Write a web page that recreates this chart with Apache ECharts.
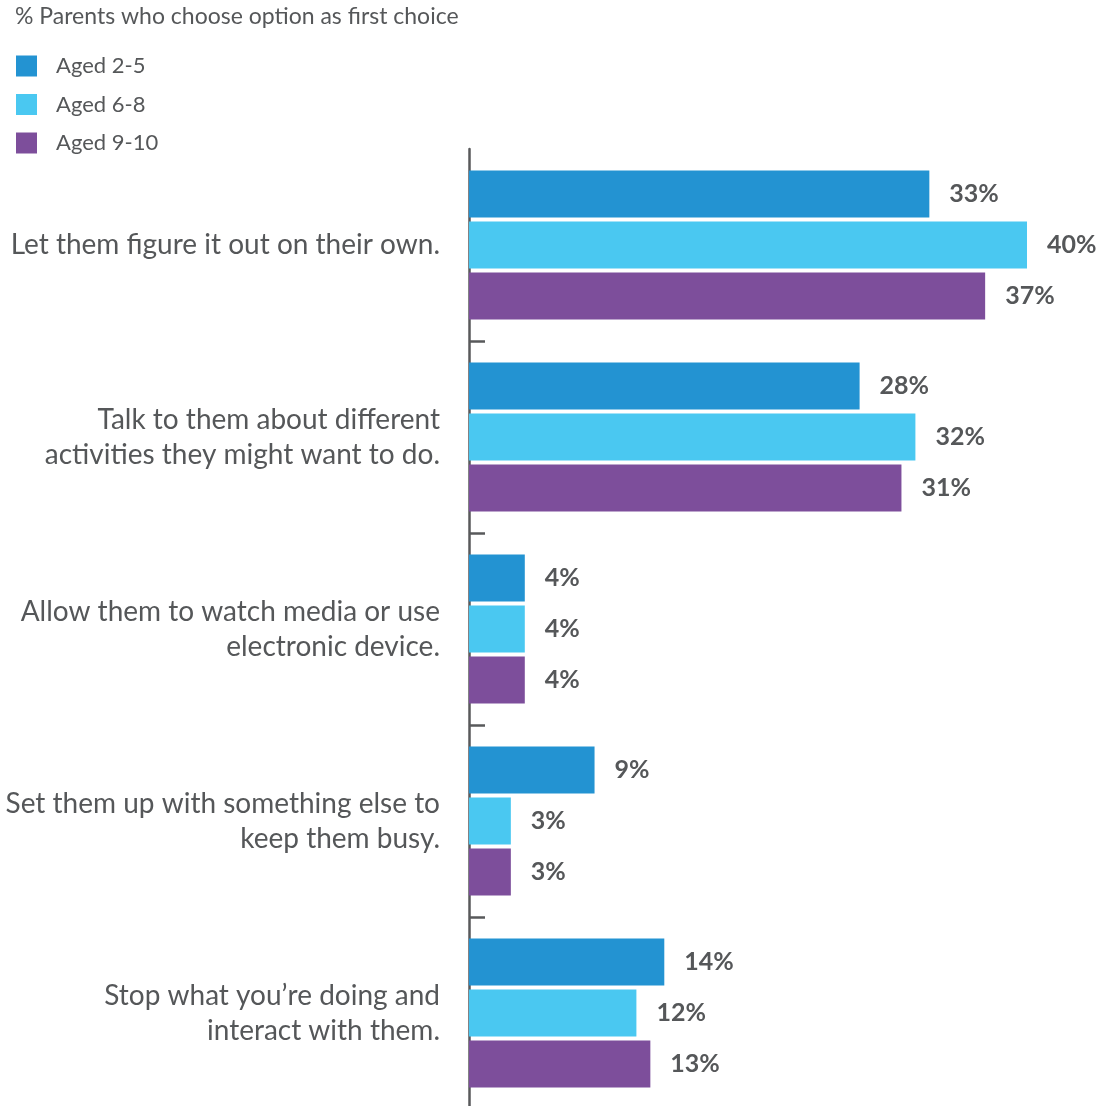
<!DOCTYPE html>
<html>
<head>
<meta charset="utf-8">
<script src="https://cdn.jsdelivr.net/npm/echarts@6/dist/echarts.min.js"></script>
<style>
  html, body { margin: 0; padding: 0; background: #fff; }
  #chart { width: 1101px; height: 1106px; }
</style>
</head>
<body>
<div id="chart"></div>
<script>
// Survey answers (first choice), one array per age group
const categories = [
  'Let them figure it out on their own.',
  'Talk to them about different\nactivities they might want to do.',
  'Allow them to watch media or use\nelectronic device.',
  'Set them up with something else to\nkeep them busy.',
  'Stop what you\u2019re doing and\ninteract with them.'
];
const seriesNames = ['Aged 2-5', 'Aged 6-8', 'Aged 9-10'];
const aged2to5 = [33, 28, 4, 9, 14];
const aged6to8 = [40, 32, 4, 3, 12];
const aged9to10 = [37, 31, 4, 3, 13];
const colors = ['#2393D2', '#4AC8F1', '#7D4E9B'];

const FONT = 'Lato';
const TEXT = '#555759';

const chart = echarts.init(document.getElementById('chart'), null, { renderer: 'canvas' });

function barSeries(name, data, color) {
  return {
    name: name,
    type: 'bar',
    data: data,
    barWidth: 47,
    barGap: '8.5%',
    itemStyle: { color: color },
    label: {
      show: true,
      position: 'right',
      distance: 20,
      formatter: '{c}%',
      fontFamily: FONT,
      fontSize: 25,
      fontWeight: 'bold',
      color: TEXT
    },
    emphasis: { disabled: true }
  };
}

chart.setOption({
  animation: false,
  title: {
    text: '% Parents who choose option as first choice',
    left: 15,
    top: 5,
    padding: 0,
    textStyle: { fontFamily: FONT, fontSize: 23, fontWeight: 'normal', color: TEXT }
  },
  legend: {
    orient: 'vertical',
    left: 16,
    top: 55,
    padding: 0,
    itemWidth: 21,
    itemHeight: 21,
    itemGap: 16.5,
    icon: 'rect',
    data: seriesNames,
    textStyle: { fontFamily: FONT, fontSize: 22, color: TEXT, padding: [0, 0, 0, 14] }
  },
  grid: {
    left: 469,
    top: 149,
    width: 45 * 13.95,
    height: 960,
    containLabel: false,
    outerBoundsMode: 'none'
  },
  xAxis: {
    type: 'value',
    min: 0,
    max: 45,
    show: false
  },
  yAxis: {
    type: 'category',
    data: categories,
    inverse: true,
    axisLine: { show: true, lineStyle: { color: '#58595B', width: 2.5 } },
    axisTick: {
      show: true,
      inside: true,
      length: 16,
      interval: function (i) { return i !== 0; },
      lineStyle: { color: '#58595B', width: 2.5 }
    },
    axisLabel: {
      margin: 29,
      fontFamily: FONT,
      fontSize: 28,
      lineHeight: 35,
      color: TEXT,
      align: 'right'
    }
  },
  series: [
    barSeries(seriesNames[0], aged2to5, colors[0]),
    barSeries(seriesNames[1], aged6to8, colors[1]),
    barSeries(seriesNames[2], aged9to10, colors[2])
  ]
});
</script>
</body>
</html>
